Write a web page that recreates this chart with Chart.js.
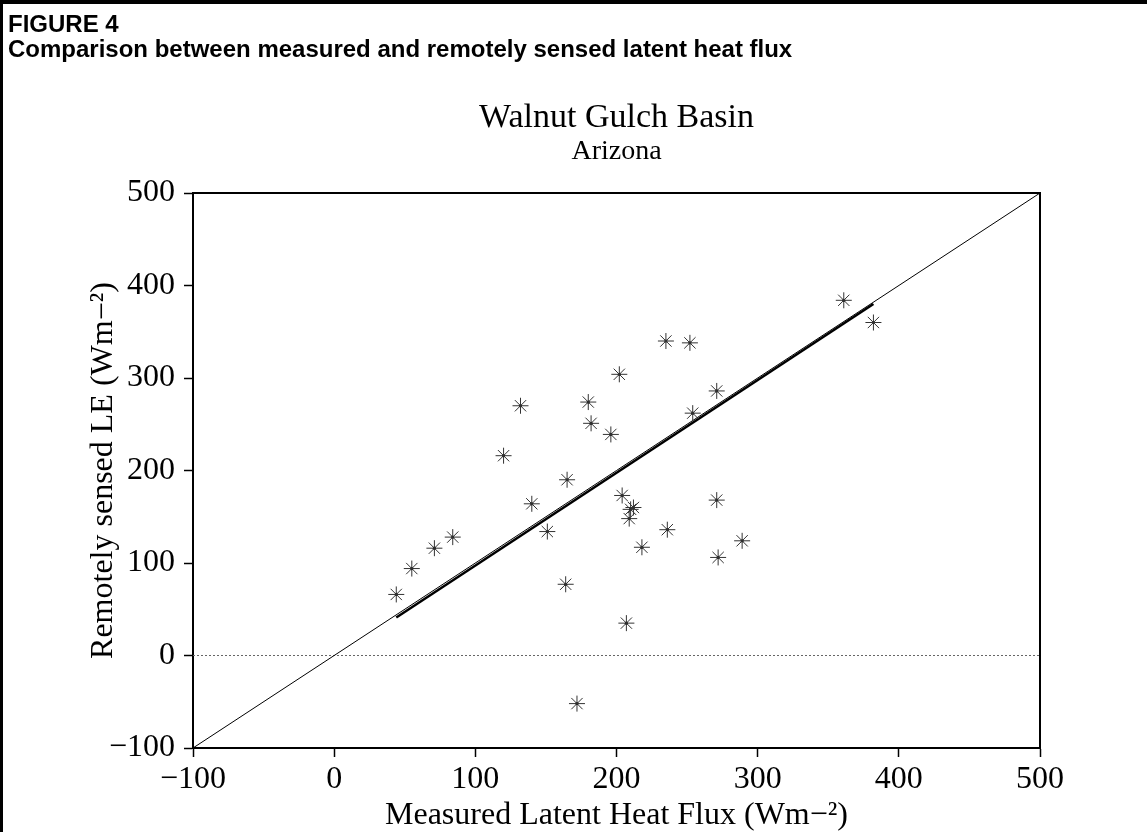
<!DOCTYPE html>
<html>
<head>
<meta charset="utf-8">
<script src="https://cdn.jsdelivr.net/npm/chart.js@4"></script>
<style>
  html, body { margin: 0; padding: 0; background: #fff; }
  #page { position: relative; width: 1147px; height: 832px; overflow: hidden; background: #fff; }
  #page canvas { position: absolute; left: 0; top: 0; }
  .edge { position: absolute; background: #000; }
  #caption {
    position: absolute; left: 8px; top: 11px;
    font: bold 24px "Liberation Sans", Arial, sans-serif;
    line-height: 25px; color: #000; white-space: nowrap;
  }
</style>
</head>
<body>
<div id="page">
  <canvas id="fluxChart" width="1147" height="832"></canvas>
  <div class="edge" style="left:0;top:0;width:1147px;height:4px"></div>
  <div class="edge" style="left:0;top:0;width:3px;height:832px"></div>
  <div id="caption">FIGURE 4<br>Comparison between measured and remotely sensed latent heat flux</div>
</div>
<script>
// measured vs remotely sensed LE (W m-2)
const measuredLE = [44, 55, 71, 84, 120, 132, 140, 151, 165, 164, 172, 180, 182, 196, 202, 204,
                    210, 212, 209, 207, 218, 236, 235, 252, 254, 271, 271, 272, 289, 361, 382];
const sensedLE   = [66, 94, 116, 128, 216, 270, 164, 134, 190, 77, -52, 274, 251, 239, 304, 173,
                    158, 160, 148, 35, 117, 136, 340, 338, 262, 286, 168, 106, 124, 384, 360];

// 1:1 line, fitted line and zero reference
const oneToOneX = [-100, 500];
const oneToOneY = [-100, 500];
const fitX = [44, 382];
const fitY = [41, 380];
const zeroX = [-100, 500];
const zeroY = [0, 0];

const axisMin = -100;
const axisMax = 500;
const tickStep = 100;

const SERIF = '"Liberation Serif", "Times New Roman", serif';

function pairs(xs, ys) {
    return xs.map((x, i) => ({ x: x, y: ys[i] }));
}

function minusLabel(v) {
    return v < 0 ? '\u2212' + Math.abs(v) : String(v);
}

new Chart(document.getElementById('fluxChart'), {
    type: 'scatter',
    data: {
        datasets: [
            {
                label: 'Observations',
                data: pairs(measuredLE, sensedLE),
                pointStyle: 'star',
                pointRadius: 8,
                borderColor: '#333',
                backgroundColor: '#333',
                borderWidth: 1
            },
            {
                label: 'centres',
                data: pairs(measuredLE, sensedLE),
                pointStyle: 'circle',
                pointRadius: 1.6,
                backgroundColor: '#000',
                borderWidth: 0
            },
            {
                label: '1:1',
                data: pairs(oneToOneX, oneToOneY),
                showLine: true,
                pointRadius: 0,
                borderColor: '#000',
                borderWidth: 1
            },
            {
                label: 'fit',
                data: pairs(fitX, fitY),
                showLine: true,
                pointRadius: 0,
                borderColor: '#000',
                borderWidth: 2.5
            },
            {
                label: 'zero',
                data: pairs(zeroX, zeroY),
                showLine: true,
                pointRadius: 0,
                borderColor: '#666',
                borderWidth: 1,
                borderDash: [2, 2]
            }
        ]
    },
    options: {
        responsive: false,
        animation: false,
        layout: { padding: { left: 0, right: 107, top: 0, bottom: 0 } },
        plugins: {
            legend: { display: false },
            tooltip: { enabled: false },
            title: {
                display: true,
                text: 'Walnut Gulch Basin',
                fullSize: false,
                color: '#000',
                font: { family: SERIF, size: 34, weight: 'normal', lineHeight: 1 },
                padding: { top: 101, bottom: 0 }
            },
            subtitle: {
                display: true,
                text: 'Arizona',
                fullSize: false,
                color: '#000',
                font: { family: SERIF, size: 28, weight: 'normal', lineHeight: 1 },
                padding: { top: 3, bottom: 27 }
            }
        },
        scales: {
            x: {
                type: 'linear',
                position: 'bottom',
                min: axisMin,
                max: axisMax,
                ticks: {
                    stepSize: tickStep,
                    color: '#000',
                    padding: 3,
                    font: { family: SERIF, size: 32 },
                    callback: minusLabel
                },
                grid: { drawOnChartArea: false, tickLength: 9, tickColor: '#000', tickWidth: 1.5 },
                border: { color: '#000', width: 2 },
                title: {
                    display: true,
                    text: 'Measured Latent Heat Flux (Wm\u2212\u00b2)',
                    color: '#000',
                    font: { family: SERIF, size: 32, lineHeight: 1 },
                    padding: { top: 0, bottom: 0 }
                },
                afterFit: function(scale) { scale.height = 84; }
            },
            y: {
                type: 'linear',
                position: 'left',
                min: axisMin,
                max: axisMax,
                ticks: {
                    stepSize: tickStep,
                    color: '#000',
                    padding: 9,
                    font: { family: SERIF, size: 32 },
                    callback: minusLabel
                },
                grid: { drawOnChartArea: false, tickLength: 9, tickColor: '#000', tickWidth: 1.5 },
                border: { color: '#000', width: 2 },
                title: {
                    display: true,
                    text: 'Remotely sensed LE (Wm\u2212\u00b2)',
                    color: '#000',
                    font: { family: SERIF, size: 32, lineHeight: 1 },
                    padding: { top: 88, bottom: 0 }
                },
                afterFit: function(scale) { scale.width = 193; }
            },
            x2: {
                type: 'linear',
                axis: 'x',
                position: 'top',
                min: axisMin,
                max: axisMax,
                ticks: { display: false },
                grid: { display: false },
                border: { color: '#000', width: 2 },
                afterFit: function(scale) { scale.height = 0; }
            },
            y2: {
                type: 'linear',
                axis: 'y',
                position: 'right',
                min: axisMin,
                max: axisMax,
                ticks: { display: false },
                grid: { display: false },
                border: { color: '#000', width: 2 },
                afterFit: function(scale) { scale.width = 0; }
            }
        }
    }
});
</script>
</body>
</html>
